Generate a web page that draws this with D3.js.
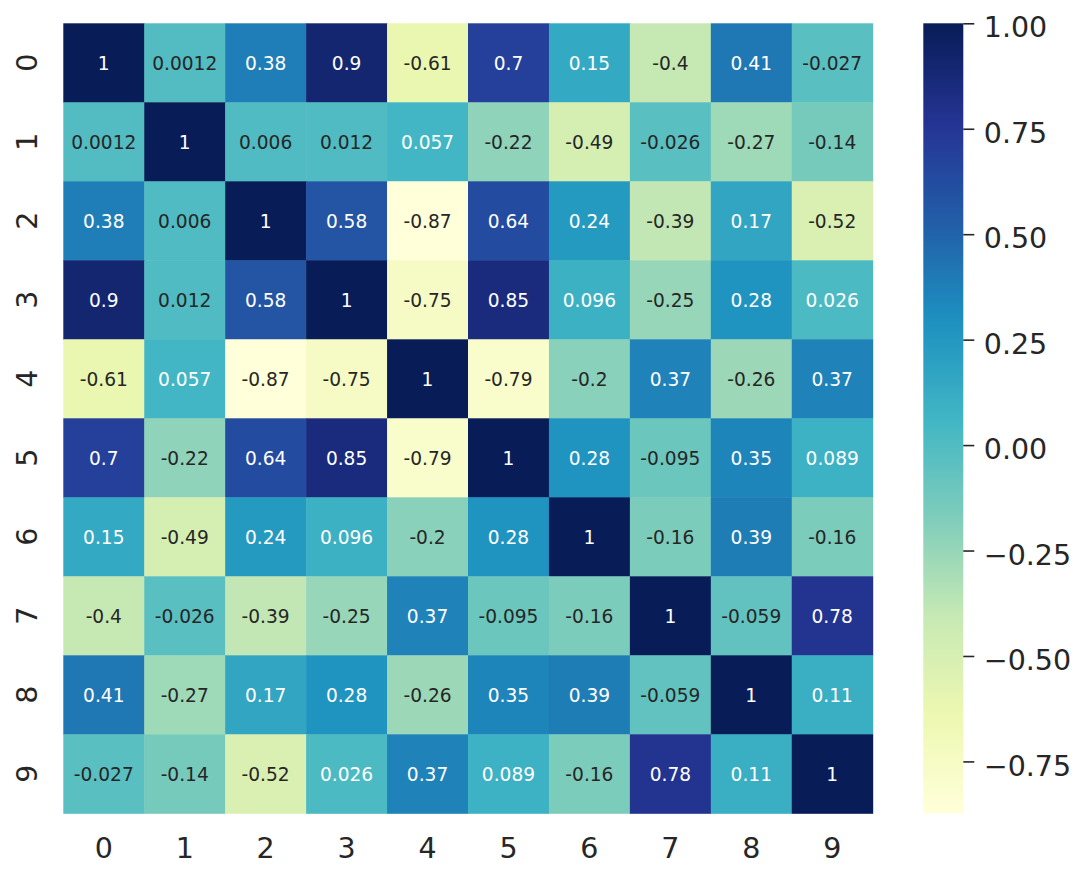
<!DOCTYPE html>
<html>
<head>
<meta charset="utf-8">
<script src="https://cdn.jsdelivr.net/npm/d3@7"></script>
<style>
  html, body { margin: 0; padding: 0; background: #ffffff; }
  svg { display: block; font-family: "DejaVu Sans", sans-serif; }
</style>
</head>
<body>
<svg id="chart" width="1076" height="877"></svg>
<script>
// ---- data ----
const rowLabels = ["0", "1", "2", "3", "4", "5", "6", "7", "8", "9"];
const colLabels = ["0", "1", "2", "3", "4", "5", "6", "7", "8", "9"];

const row0 = [1, 0.0012, 0.38, 0.9, -0.61, 0.7, 0.15, -0.4, 0.41, -0.027];
const row1 = [0.0012, 1, 0.006, 0.012, 0.057, -0.22, -0.49, -0.026, -0.27, -0.14];
const row2 = [0.38, 0.006, 1, 0.58, -0.873, 0.64, 0.24, -0.39, 0.17, -0.52];
const row3 = [0.9, 0.012, 0.58, 1, -0.75, 0.85, 0.096, -0.25, 0.28, 0.026];
const row4 = [-0.61, 0.057, -0.873, -0.75, 1, -0.79, -0.2, 0.37, -0.26, 0.37];
const row5 = [0.7, -0.22, 0.64, 0.85, -0.79, 1, 0.28, -0.095, 0.35, 0.089];
const row6 = [0.15, -0.49, 0.24, 0.096, -0.2, 0.28, 1, -0.16, 0.39, -0.16];
const row7 = [-0.4, -0.026, -0.39, -0.25, 0.37, -0.095, -0.16, 1, -0.059, 0.78];
const row8 = [0.41, -0.27, 0.17, 0.28, -0.26, 0.35, 0.39, -0.059, 1, 0.11];
const row9 = [-0.027, -0.14, -0.52, 0.026, 0.37, 0.089, -0.16, 0.78, 0.11, 1];

const colorbarTicks = [1.0, 0.75, 0.5, 0.25, 0.0, -0.25, -0.5, -0.75];

// YlGnBu (ColorBrewer 9-class, as in matplotlib)
const ylGnBu = ["#ffffd9", "#edf8b1", "#c7e9b4", "#7fcdbb", "#41b6c4", "#1d91c0", "#225ea8", "#253494", "#081d58"];

// ---- build ----
const matrix = [row0, row1, row2, row3, row4, row5, row6, row7, row8, row9];
const cells = [];
matrix.forEach((r, i) => r.forEach((v, j) => cells.push({ row: rowLabels[i], col: colLabels[j], value: v })));

const vmin = d3.min(cells, d => d.value);
const vmax = d3.max(cells, d => d.value);

const svg = d3.select("#chart");
svg.append("rect").attr("width", 1076).attr("height", 877).attr("fill", "#ffffff");

const plotLeft = 63.3, plotRight = 872.7, plotTop = 23.3, plotBottom = 813.3;
const x = d3.scaleBand().domain(colLabels).range([plotLeft, plotRight]).padding(0);
const y = d3.scaleBand().domain(rowLabels).range([plotTop, plotBottom]).padding(0);

const cmapBase = d3.scaleLinear()
  .domain(d3.range(ylGnBu.length).map(i => i / (ylGnBu.length - 1)))
  .range(ylGnBu)
  .interpolate(d3.interpolateRgb)
  .clamp(true);
const norm = d3.scaleLinear().domain([vmin, vmax]);
function colorOf(v) {
  const t = norm(v);
  const idx = Math.max(0, Math.min(255, Math.floor(t * 256)));
  return cmapBase(idx / 255);
}
function relLum(c) {
  const rgb = d3.rgb(c);
  const f = u => { u = u / 255; return u <= 0.03928 ? u / 12.92 : Math.pow((u + 0.055) / 1.055, 2.4); };
  return 0.2126 * f(rgb.r) + 0.7152 * f(rgb.g) + 0.0722 * f(rgb.b);
}
const fmt = d3.format(".2~g");
const textDark = "#262626";

// cells
svg.append("g")
  .selectAll("rect")
  .data(cells)
  .join("rect")
  .attr("x", d => x(d.col))
  .attr("y", d => y(d.row))
  .attr("width", x.bandwidth() + 0.5)
  .attr("height", y.bandwidth() + 0.5)
  .attr("fill", d => colorOf(d.value));

// annotations
svg.append("g")
  .selectAll("text")
  .data(cells)
  .join("text")
  .attr("x", d => x(d.col) + x.bandwidth() / 2)
  .attr("y", d => y(d.row) + y.bandwidth() / 2)
  .attr("dy", "0.41em")
  .attr("text-anchor", "middle")
  .attr("font-size", "18.6px")
  .attr("fill", d => relLum(colorOf(d.value)) > 0.408 ? textDark : "#ffffff")
  .text(d => fmt(d.value).replace("\u2212", "-"));

// x axis
svg.append("g")
  .attr("transform", `translate(0,${plotBottom})`)
  .call(d3.axisBottom(x).tickSize(0))
  .call(g => g.select(".domain").remove())
  .call(g => g.selectAll("text")
    .attr("y", 847.5 - plotBottom)
    .attr("dy", "0.36em")
    .attr("font-size", "28.5px")
    .attr("font-family", "DejaVu Sans, sans-serif")
    .attr("fill", textDark));

// y axis (rotated labels)
svg.append("g")
  .attr("transform", `translate(${plotLeft},0)`)
  .call(d3.axisLeft(y).tickSize(0))
  .call(g => g.select(".domain").remove())
  .call(g => g.selectAll("text")
    .attr("x", 0)
    .attr("y", 0)
    .attr("dy", "0.36em")
    .attr("text-anchor", "middle")
    .attr("transform", `translate(${26.7 - plotLeft},0) rotate(-90)`)
    .attr("font-size", "28.5px")
    .attr("font-family", "DejaVu Sans, sans-serif")
    .attr("fill", textDark));

// colorbar
const cbLeft = 923.3, cbRight = 963.3;
const cb = d3.scaleLinear().domain([vmin, vmax]).range([plotBottom, plotTop]);
const defs = svg.append("defs");
const grad = defs.append("linearGradient")
  .attr("id", "cbgrad")
  .attr("x1", 0).attr("y1", 1).attr("x2", 0).attr("y2", 0);
const nStops = 128;
grad.selectAll("stop")
  .data(d3.range(nStops + 1).map(i => i / nStops))
  .join("stop")
  .attr("offset", t => t)
  .attr("stop-color", t => colorOf(vmin + t * (vmax - vmin)));

svg.append("rect")
  .attr("x", cbLeft)
  .attr("y", cb(vmax))
  .attr("width", cbRight - cbLeft)
  .attr("height", cb(vmin) - cb(vmax))
  .attr("fill", "url(#cbgrad)");

svg.append("g")
  .attr("transform", `translate(${cbRight},0)`)
  .call(d3.axisRight(cb).tickValues(colorbarTicks).tickSize(11).tickPadding(9.5)
    .tickFormat(v => d3.format(".2f")(v).replace("-", "\u2212")))
  .call(g => g.select(".domain").remove())
  .call(g => g.selectAll("line").attr("stroke", textDark).attr("stroke-width", 1.6))
  .call(g => g.selectAll("text")
    .attr("dy", "0.48em")
    .attr("font-size", "28.5px")
    .attr("font-family", "DejaVu Sans, sans-serif")
    .attr("fill", textDark));
</script>
</body>
</html>
